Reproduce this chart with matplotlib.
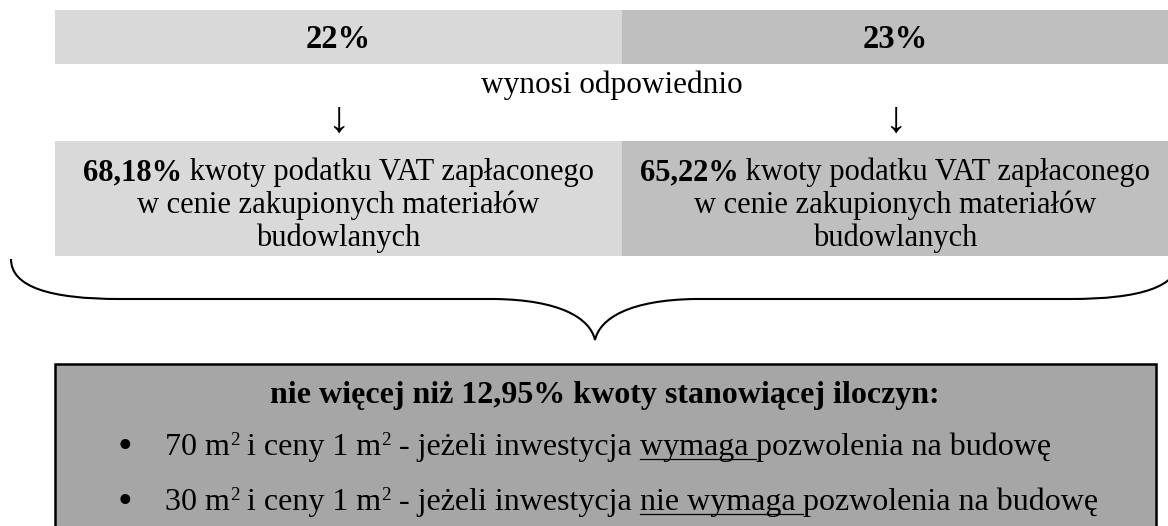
import matplotlib
matplotlib.use('Agg')
import matplotlib.pyplot as plt
from matplotlib.path import Path
from matplotlib.patches import PathPatch, Rectangle

plt.rcParams['font.family'] = ['Liberation Serif', 'DejaVu Serif']

# VAT rates and the refund shares they give
rates = ['22%', '23%']
shares = ['68,18%', '65,22%']
share_text = ['kwoty podatku VAT zapłaconego', 'w cenie zakupionych materiałów', 'budowlanych']
connector = 'wynosi odpowiednio'
limit_title = 'nie więcej niż 12,95% kwoty stanowiącej iloczyn:'
areas = ['70', '30']
permit = ['wymaga', 'nie wymaga']
cell_colors = ['#d9d9d9', '#bfbfbf']
box_color = '#a6a6a6'

W, H = 1168, 526
fig = plt.figure(figsize=(W / 100, H / 100), dpi=100)
ax = fig.add_axes([0, 0, 1, 1])
ax.set_xlim(0, W)
ax.set_ylim(H, 0)
ax.axis('off')
renderer = fig.canvas.get_renderer()


def text_width(s, size, weight='normal'):
    # pad with bars so leading/trailing spaces are counted
    t = ax.text(0, 0, '|' + s + '|', fontsize=size, fontweight=weight)
    w1 = t.get_window_extent(renderer).width
    t.remove()
    t = ax.text(0, 0, '||', fontsize=size, fontweight=weight)
    w2 = t.get_window_extent(renderer).width
    t.remove()
    return w1 - w2


def draw_runs(x, y, runs, size, align='center'):
    # runs: (text, style) with style '', 'b', 'sup' or 'u'
    widths = []
    for s, st in runs:
        sz = size * 0.6 if st == 'sup' else size
        widths.append(text_width(s, sz, 'bold' if st == 'b' else 'normal'))
    cx = x - sum(widths) / 2 if align == 'center' else x
    for (s, st), w in zip(runs, widths):
        if st == 'sup':
            ax.text(cx, y - size * 0.45, s, fontsize=size * 0.6, va='baseline', ha='left')
        else:
            ax.text(cx, y, s, fontsize=size, va='baseline', ha='left',
                    fontweight='bold' if st == 'b' else 'normal')
        if st == 'u':
            ax.plot([cx, cx + w], [y + 4, y + 4], color='black', lw=0.9)
        cx += w


# columns for the two rates
col_x = [(55, 622), (622, 1168)]
for i, (x0, x1) in enumerate(col_x):
    xc = (x0 + x1) / 2
    ax.add_patch(Rectangle((x0, 10), x1 - x0, 54, facecolor=cell_colors[i], edgecolor='none'))
    ax.add_patch(Rectangle((x0, 141), x1 - x0, 115, facecolor=cell_colors[i], edgecolor='none'))
    ax.text(xc, 48, rates[i], fontsize=23.5, fontweight='bold', ha='center', va='baseline')
    ax.text(xc, 121, '↓', fontsize=32, ha='center', va='center')
    draw_runs(xc, 180, [(shares[i], 'b'), (' ' + share_text[0], '')], 22)
    ax.text(xc, 213, share_text[1], fontsize=22, ha='center', va='baseline')
    ax.text(xc, 246, share_text[2], fontsize=22, ha='center', va='baseline')

ax.text(612, 93, connector, fontsize=22.5, ha='center', va='baseline')

# curly brace
verts = [(11, 259), (11, 287), (50, 299), (120, 299),
         (495, 299),
         (560, 300), (590, 318), (595, 340),
         (600, 318), (630, 300), (695, 299),
         (1070, 299),
         (1140, 299), (1179, 287), (1179, 259)]
codes = [Path.MOVETO, Path.CURVE4, Path.CURVE4, Path.CURVE4,
         Path.LINETO,
         Path.CURVE4, Path.CURVE4, Path.CURVE4,
         Path.CURVE4, Path.CURVE4, Path.CURVE4,
         Path.LINETO,
         Path.CURVE4, Path.CURVE4, Path.CURVE4]
ax.add_patch(PathPatch(Path(verts, codes), facecolor='none', edgecolor='black', lw=1.5))

# bottom box
ax.add_patch(Rectangle((55, 364), 1101, 200, facecolor=box_color, edgecolor='black', lw=1.8))
ax.text(605, 403, limit_title, fontsize=23, fontweight='bold', ha='center', va='baseline')
for i, y in enumerate([455, 510]):
    ax.text(125, y - 7, '•', fontsize=30, ha='center', va='center')
    runs = [(areas[i] + ' m', ''), ('2', 'sup'), (' i ceny 1 m', ''), ('2', 'sup'),
            (' - jeżeli inwestycja ', ''), (permit[i] + ' ', 'u'), ('pozwolenia na budowę', '')]
    draw_runs(165, y, runs, 23, align='left')

fig.savefig('out.png', dpi=100)
